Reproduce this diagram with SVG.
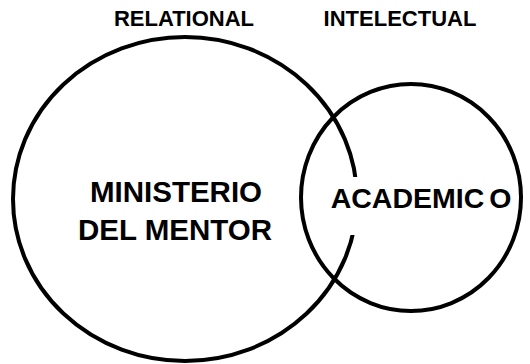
<svg xmlns="http://www.w3.org/2000/svg" width="530" height="364" viewBox="0 0 530 364">
<style>
.c{fill:none;stroke:#000;stroke-width:4}
.t{font-family:"Liberation Sans",Arial,sans-serif;font-weight:bold;fill:#000;text-anchor:middle}
</style>
<rect width="530" height="364" fill="#fff"/>
<g id="ministerio">
<ellipse class="c" cx="185" cy="199" rx="172" ry="162"/>
</g>
<rect x="326" y="177" width="170" height="58" fill="#fff"/>
<g id="academico">
<ellipse class="c" cx="411" cy="197.5" rx="110" ry="113.5"/>
<text class="t" x="421" y="208" font-size="28.5">ACADEMIC<tspan dx="-3"> O</tspan></text>
</g>
<g id="labels">
<text class="t" x="184" y="26" font-size="22">RELATIONAL</text>
<text class="t" x="400" y="26" font-size="22">INTELECTUAL</text>
<text class="t" x="176" y="202" font-size="29.5">MINISTERIO</text>
<text class="t" x="175" y="240" font-size="29.5">DEL MENTOR</text>
</g>
</svg>
